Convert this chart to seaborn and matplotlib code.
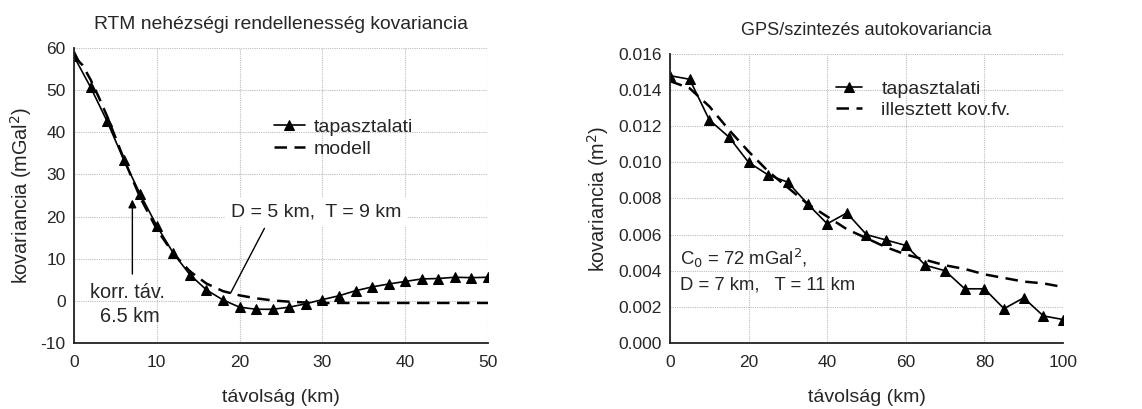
import matplotlib
matplotlib.use("Agg")
import matplotlib.pyplot as plt
import numpy as np
import pandas as pd
import seaborn as sns
from matplotlib.ticker import MultipleLocator, FormatStrFormatter

# RTM gravity anomaly covariance (left panel)
rtm_dist = [0, 2, 4, 6, 8, 10, 12, 14, 16, 18, 20, 22, 24, 26, 28, 30, 32, 34, 36, 38, 40, 42, 44, 46, 48, 50]
rtm_emp = [58.0, 50.7, 42.6, 33.5, 25.3, 17.8, 11.3, 6.2, 2.6, 0.2, -1.5, -2.0, -2.0, -1.5, -0.7, 0.3, 1.2, 2.4, 3.3, 4.0, 4.6, 5.2, 5.3, 5.6, 5.5, 5.6]
model_dist = [0, 1, 2, 3, 4, 6, 8, 10, 12, 14, 16, 18, 20, 22, 24, 26, 28, 30, 35, 40, 45, 50]
model_cov = [58.0, 56.0, 52.5, 48.3, 43.8, 33.8, 24.5, 17.0, 11.2, 7.0, 4.1, 2.3, 1.3, 0.6, 0.1, -0.2, -0.4, -0.5, -0.5, -0.5, -0.5, -0.5]

# GPS/levelling autocovariance (right panel)
gps_dist = [0, 5, 10, 15, 20, 25, 30, 35, 40, 45, 50, 55, 60, 65, 70, 75, 80, 85, 90, 95, 100]
gps_emp = [0.0148, 0.0146, 0.01235, 0.0114, 0.0100, 0.0093, 0.0089, 0.0077, 0.0066, 0.0072, 0.0060, 0.0057, 0.0054, 0.0043, 0.0040, 0.0030, 0.0030, 0.0019, 0.0025, 0.0015, 0.0013]
fit_cov = [0.0145, 0.0141, 0.0131, 0.0118, 0.0106, 0.0095, 0.0086, 0.0077, 0.0070, 0.0063, 0.0058, 0.0053, 0.0049, 0.0046, 0.0043, 0.0041, 0.0038, 0.0036, 0.0034, 0.0033, 0.0031]

sns.set_style("white")
plt.rcParams["font.family"] = ["Liberation Sans", "DejaVu Sans"]
plt.rcParams["axes.unicode_minus"] = False

fig = plt.figure(figsize=(11.42, 4.09), dpi=100)
ax1 = fig.add_axes([0.0648, 0.1614, 0.3625, 0.7212])
ax2 = fig.add_axes([0.5867, 0.1614, 0.3441, 0.7066])

grid_kw = dict(color="#bdbdbd", linestyle=(0, (1, 1)), linewidth=0.8)


def style_axes(ax):
    ax.grid(True, **grid_kw)
    ax.set_axisbelow(True)
    for side in ["top", "right"]:
        ax.spines[side].set_visible(False)
    for side in ["left", "bottom"]:
        ax.spines[side].set_color("#222222")
        ax.spines[side].set_linewidth(1.3)
    ax.tick_params(which="major", direction="in", length=5, width=1, color="black", labelsize=12.5, pad=6)
    ax.tick_params(axis="x", which="major", pad=9)
    ax.tick_params(which="minor", direction="in", length=3, width=1, color="black")


# left panel
df_rtm = pd.DataFrame({"x": rtm_dist, "y": rtm_emp})
df_model = pd.DataFrame({"x": model_dist, "y": model_cov})
sns.lineplot(data=df_rtm, x="x", y="y", ax=ax1, color="black", lw=1.2, marker="^",
             markersize=7.5, markeredgecolor="black", label="tapasztalati")
sns.lineplot(data=df_model, x="x", y="y", ax=ax1, color="black", lw=1.8,
             linestyle=(0, (5, 3)), label="modell")
ax1.set_xlim(0, 50)
ax1.set_ylim(-10, 60)
ax1.xaxis.set_major_locator(MultipleLocator(10))
ax1.xaxis.set_minor_locator(MultipleLocator(5))
ax1.yaxis.set_major_locator(MultipleLocator(10))
ax1.yaxis.set_minor_locator(MultipleLocator(5))
style_axes(ax1)
ax1.set_xlabel("távolság (km)", fontsize=14, labelpad=13)
ax1.set_ylabel("kovariancia (mGal$^2$)", fontsize=14.3, labelpad=5)
ax1.set_title("RTM nehézségi rendellenesség kovariancia", fontsize=13.9, pad=14)
ax1.legend(loc="upper left", bbox_to_anchor=(0.44, 0.82), frameon=False, fontsize=14,
           handlelength=1.6, handletextpad=0.45, labelspacing=0.2)
ax1.annotate("", xy=(7.05, 24.7), xytext=(7.05, 5.7),
             arrowprops=dict(arrowstyle="-|>", color="black", lw=1.0, mutation_scale=12))
ax1.text(6.4, 2.0, "korr. táv.", ha="center", va="center", fontsize=14.3)
ax1.text(6.8, -3.6, "6.5 km", ha="center", va="center", fontsize=14.3)
ax1.plot([18.9, 23.0], [1.8, 17.2], color="black", lw=1.0)
ax1.text(29.2, 21.1, "D = 5 km,  T = 9 km", ha="center", va="center", fontsize=14,
         bbox=dict(facecolor="white", edgecolor="none", pad=4))

# right panel
df_gps = pd.DataFrame({"x": gps_dist, "y": gps_emp})
df_fit = pd.DataFrame({"x": gps_dist, "y": fit_cov})
sns.lineplot(data=df_gps, x="x", y="y", ax=ax2, color="black", lw=1.2, marker="^",
             markersize=7.5, markeredgecolor="black", label="tapasztalati")
sns.lineplot(data=df_fit, x="x", y="y", ax=ax2, color="black", lw=1.8,
             linestyle=(0, (5, 3)), label="illesztett kov.fv.")
ax2.set_xlim(0, 100)
ax2.set_ylim(0, 0.016)
ax2.xaxis.set_major_locator(MultipleLocator(20))
ax2.xaxis.set_minor_locator(MultipleLocator(10))
ax2.yaxis.set_major_locator(MultipleLocator(0.002))
ax2.yaxis.set_minor_locator(MultipleLocator(0.001))
ax2.yaxis.set_major_formatter(FormatStrFormatter("%.3f"))
style_axes(ax2)
ax2.set_xlabel("távolság (km)", fontsize=14, labelpad=13)
ax2.set_ylabel("kovariancia (m$^2$)", fontsize=14.3, labelpad=5)
ax2.set_title("GPS/szintezés autokovariancia", fontsize=13.1, pad=14)
ax2.legend(loc="upper left", bbox_to_anchor=(0.377, 0.97), frameon=False, fontsize=14,
           handlelength=1.35, handletextpad=1.0, labelspacing=0.2)
ax2.text(2.5, 0.0047, "C$_0$ = 72 mGal$^2$,", ha="left", va="center", fontsize=13.3)
ax2.text(2.5, 0.0032, "D = 7 km,   T = 11 km", ha="left", va="center", fontsize=13.3)

fig.savefig("out.png", dpi=100, facecolor="white")
